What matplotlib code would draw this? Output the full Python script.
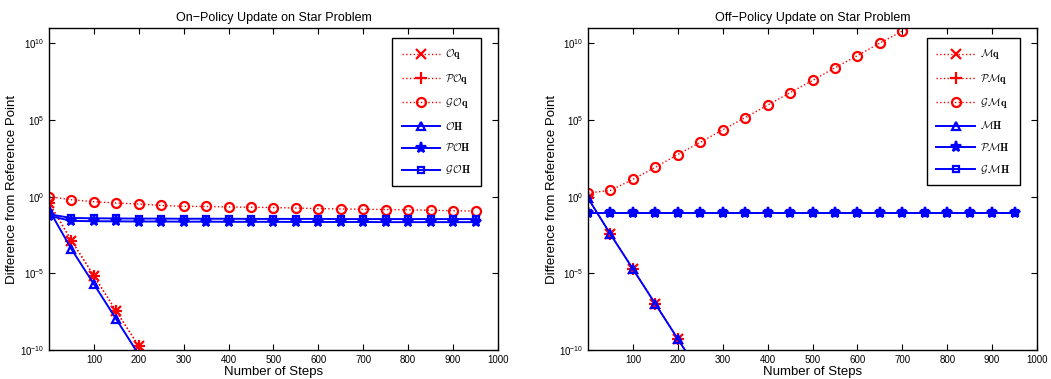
import matplotlib.pyplot as plt
import numpy as np

plt.rcParams['font.family'] = ['Liberation Sans', 'DejaVu Sans']
plt.rcParams['mathtext.fontset'] = 'cm'

steps = np.arange(0, 1000, 50)

# on-policy (left), log10 of difference
on_q = [-0.40, -2.86, -5.16, -7.47, -9.74, -12.0]
on_pq = [-0.40, -2.86, -5.16, -7.47, -9.74, -12.0]
on_gq = [0.00, -0.20, -0.33, -0.41, -0.48, -0.57, -0.63, -0.64, -0.67, -0.69, -0.71,
         -0.74, -0.78, -0.80, -0.82, -0.84, -0.86, -0.88, -0.92, -0.93]
on_h = [-0.85, -3.42, -5.70, -8.00, -10.30]
on_ph = [-1.25, -1.58, -1.60, -1.61, -1.62, -1.62, -1.63, -1.63, -1.64, -1.64, -1.64,
         -1.65, -1.65, -1.65, -1.65, -1.66, -1.66, -1.66, -1.66, -1.66]
on_gh = [-1.15, -1.39, -1.41, -1.42, -1.43, -1.43, -1.44, -1.44, -1.44, -1.45, -1.45,
         -1.45, -1.45, -1.46, -1.46, -1.46, -1.46, -1.46, -1.46, -1.46]

# off-policy (right)
off_q = [-0.10, -2.45, -4.72, -7.00, -9.28, -11.55]
off_pq = [-0.10, -2.45, -4.72, -7.00, -9.28, -11.55]
off_gq = [0.24, 0.41, 1.13, 1.92, 2.75, 3.55, 4.36, 5.16, 5.97, 6.78, 7.58,
          8.41, 9.20, 10.02, 10.80]
off_h = [-0.10, -2.45, -4.72, -7.00, -9.28, -11.55]
off_ph = [-1.08] * 20
off_gh = [-1.08] * 20

on_labels = [r'$\mathcal{O}\mathbf{q}$', r'$\mathcal{PO}\mathbf{q}$', r'$\mathcal{G}\,\mathcal{O}\mathbf{q}$',
             r'$\mathcal{O}\mathbf{H}$', r'$\mathcal{PO}\mathbf{H}$', r'$\mathcal{G}\,\mathcal{O}\mathbf{H}$']
off_labels = [r'$\mathcal{M}\mathbf{q}$', r'$\mathcal{PM}\mathbf{q}$', r'$\mathcal{G}\,\mathcal{M}\mathbf{q}$',
              r'$\mathcal{M}\mathbf{H}$', r'$\mathcal{PM}\mathbf{H}$', r'$\mathcal{G}\,\mathcal{M}\mathbf{H}$']

styles = [('r', ':', 'x'), ('r', ':', '+'), ('r', ':', 'o'),
          ('b', '-', '^'), ('b', '-', '*'), ('b', '-', 's')]
sizes = {'x': 7, '+': 8, 'o': 6.5, '^': 6, '*': 8, 's': 5}


def draw(ax, series, labels, title):
    for data, lab, (c, ls, m) in zip(series, labels, styles):
        y = 10.0 ** np.array(data)
        x = steps[:len(y)]
        mfc = 'none' if m in ('o', 's', '^') else c
        ax.plot(x, y, color=c, linestyle=ls, marker=m, markersize=sizes[m], markeredgewidth=1.6,
                markerfacecolor=mfc, linewidth=1.0 if ls == ':' else 1.4, label=lab)
    ax.set_yscale('log')
    ax.set_xlim(0, 1000)
    ax.set_ylim(1e-10, 1e11)
    ax.set_xticks(np.arange(100, 1001, 100))
    ax.set_yticks([1e-10, 1e-5, 1e0, 1e5, 1e10])
    ax.yaxis.set_minor_locator(plt.NullLocator())
    ax.tick_params(direction='in', top=True, right=True, labelsize=7, length=4, width=0.8)
    for s in ax.spines.values():
        s.set_linewidth(1.0)
    ax.set_title(title, fontsize=9, pad=5)
    ax.set_xlabel('Number of Steps', fontsize=9.5, labelpad=1)
    ax.set_ylabel('Difference from Reference Point', fontsize=9.5, labelpad=1)
    leg = ax.legend(loc='upper right', bbox_to_anchor=(0.973, 0.985), fontsize=7.5,
                    handlelength=3.7, labelspacing=0.98, borderpad=0.9, handletextpad=0.5,
                    fancybox=False, edgecolor='black', framealpha=1)
    leg.get_frame().set_linewidth(1.0)


fig = plt.figure(figsize=(10.51, 3.79), dpi=100)
ax1 = fig.add_axes([0.0466, 0.0765, 0.4272, 0.8496])
ax2 = fig.add_axes([0.5595, 0.0765, 0.4272, 0.8496])

draw(ax1, [on_q, on_pq, on_gq, on_h, on_ph, on_gh], on_labels, 'On\u2212Policy Update on Star Problem')
draw(ax2, [off_q, off_pq, off_gq, off_h, off_ph, off_gh], off_labels, 'Off\u2212Policy Update on Star Problem')

fig.savefig('out.png', dpi=100)
